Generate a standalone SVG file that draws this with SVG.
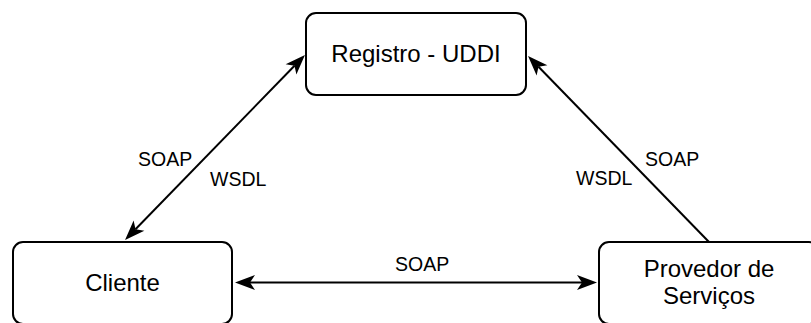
<svg xmlns="http://www.w3.org/2000/svg" width="811" height="323" viewBox="0 0 811 323">
  <style>
    .box { fill: #ffffff; stroke: #000000; stroke-width: 2; }
    .node-text { font-family: "Liberation Sans", Arial, Helvetica, sans-serif; font-size: 24px; fill: #000000; text-anchor: middle; }
    .edge { fill: none; stroke: #000000; stroke-width: 2; }
    .edge-label { font-family: "Liberation Sans", Arial, Helvetica, sans-serif; font-size: 19.5px; fill: #000000; }
  </style>
  <defs>
    <!-- filled arrowhead with notched back; ref point sits at the notch -->
    <marker id="arrow" markerUnits="userSpaceOnUse" markerWidth="24" markerHeight="20" refX="5" refY="0" viewBox="0 -10 24 20" orient="auto-start-reverse" overflow="visible">
      <path d="M0,-7.5 L20,0 L0,7.5 L5,0 Z" fill="#000000" stroke="none"/>
    </marker>
  </defs>
  <rect width="811" height="323" fill="#ffffff"/>

  <g id="connectors">
    <!-- Cliente <-> Registro -->
    <line class="edge" x1="135.5" y1="229.2" x2="294.5" y2="65.8" marker-start="url(#arrow)" marker-end="url(#arrow)"/>
    <!-- Provedor -> Registro -->
    <line class="edge" x1="709" y1="242" x2="538.5" y2="66.8" marker-end="url(#arrow)"/>
    <!-- Cliente <-> Provedor -->
    <line class="edge" x1="250" y1="282.5" x2="582" y2="282.5" marker-start="url(#arrow)" marker-end="url(#arrow)"/>
    <text class="edge-label" x="138" y="166">SOAP</text>
    <text class="edge-label" x="210" y="186">WSDL</text>
    <text class="edge-label" x="645" y="166">SOAP</text>
    <text class="edge-label" x="576" y="185">WSDL</text>
    <text class="edge-label" x="395" y="271">SOAP</text>
  </g>

  <g id="registro">
    <rect class="box" x="306" y="13" width="220" height="82" rx="10" ry="10"/>
    <text class="node-text" x="416" y="62">Registro - UDDI</text>
  </g>

  <g id="cliente">
    <rect class="box" x="13" y="242" width="219" height="82" rx="10" ry="10"/>
    <text class="node-text" x="122.5" y="291">Cliente</text>
  </g>

  <g id="provedor">
    <rect class="box" x="599" y="242" width="220" height="82" rx="10" ry="10"/>
    <text class="node-text" x="709" y="277">Provedor de</text>
    <text class="node-text" x="709" y="304">Serviços</text>
  </g>
</svg>
